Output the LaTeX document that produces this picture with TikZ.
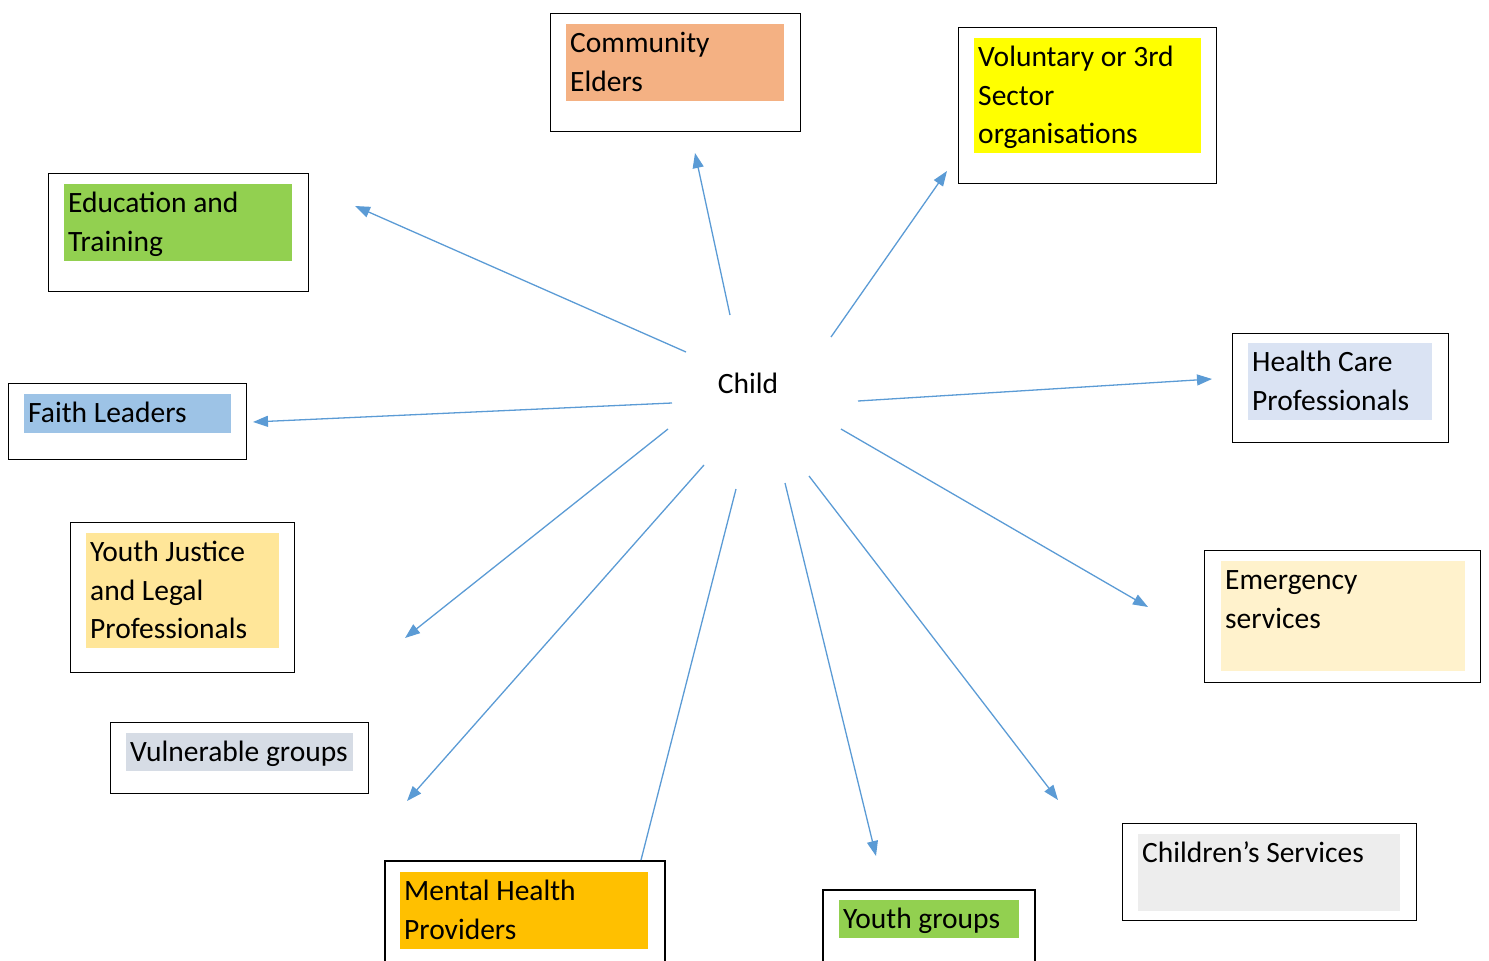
\documentclass[tikz,border=0pt]{standalone}
\usepackage{fontspec}
\setmainfont{Carlito}
\usetikzlibrary{arrows.meta}
\definecolor{lnk}{HTML}{5B9BD5}
\definecolor{cOrange}{HTML}{F4B183}
\definecolor{cYellow}{HTML}{FFFF00}
\definecolor{cGreen}{HTML}{92D050}
\definecolor{cBlue}{HTML}{9DC3E6}
\definecolor{cPaleBlue}{HTML}{DAE3F3}
\definecolor{cCream}{HTML}{FFF2CC}
\definecolor{cGold}{HTML}{FFE699}
\definecolor{cGrey}{HTML}{D6DCE5}
\definecolor{cAmber}{HTML}{FFC000}
\definecolor{cLight}{HTML}{EDEDED}
\newcommand{\Ls}{\rule[-10pt]{0pt}{38.5pt}}
\begin{document}
\begin{tikzpicture}[x=1pt,y=-1pt,
  outerbox/.style={draw=black, line width=1.4pt, anchor=north west, inner sep=0pt},
  fillbox/.style={draw=none, anchor=north west, inner sep=0pt},
  lab/.style={anchor=north west, inner xsep=4pt, inner ysep=0pt, align=left, font=\fontsize{29.5}{38.5}\selectfont},
  arr/.style={draw=lnk, line width=1.3pt, -{Triangle[length=15pt,width=11pt]}},
  plainline/.style={draw=lnk, line width=1.3pt}]
\useasboundingbox (0,0) rectangle (1489,961);
\clip (0,0) rectangle (1489,961);

% Community Elders
\node[outerbox, minimum width=250pt, minimum height=118pt] (ceO) at (550,13) {};
\node[fillbox, fill=cOrange, minimum width=218pt, minimum height=77pt] (ceF) at (566,24) {};
\node[lab] (ce) at (ceF.north west) {\Ls Community\\\Ls Elders};

% Voluntary
\node[outerbox, minimum width=258pt, minimum height=156pt] (voO) at (958,27) {};
\node[fillbox, fill=cYellow, minimum width=227pt, minimum height=115pt] (voF) at (974,38) {};
\node[lab] (vo) at (voF.north west) {\Ls Voluntary or 3rd\\\Ls Sector\\\Ls organisations};

% Education
\node[outerbox, minimum width=260pt, minimum height=118pt] (edO) at (48,173) {};
\node[fillbox, fill=cGreen, minimum width=228pt, minimum height=77pt] (edF) at (64,184) {};
\node[lab] (ed) at (edF.north west) {\Ls Education and\\\Ls Training};

% Faith Leaders
\node[outerbox, minimum width=238pt, minimum height=76pt] (faO) at (8,383) {};
\node[fillbox, fill=cBlue, minimum width=207pt, minimum height=38.5pt] (faF) at (24,394) {};
\node[lab] (fa) at (faF.north west) {\Ls Faith Leaders};

% Health Care
\node[outerbox, minimum width=216pt, minimum height=109pt] (hcO) at (1232,333) {};
\node[fillbox, fill=cPaleBlue, minimum width=184pt, minimum height=77pt] (hcF) at (1248,343) {};
\node[lab] (hc) at (hcF.north west) {\Ls Health Care\\\Ls Professionals};

% Emergency
\node[outerbox, minimum width=276pt, minimum height=132pt] (emO) at (1204,550) {};
\node[fillbox, fill=cCream, minimum width=244pt, minimum height=110pt] (emF) at (1221,561) {};
\node[lab] (em) at (emF.north west) {\Ls Emergency\\\Ls services};

% Youth Justice
\node[outerbox, minimum width=224pt, minimum height=150pt] (yjO) at (70,522) {};
\node[fillbox, fill=cGold, minimum width=193pt, minimum height=115pt] (yjF) at (86,533) {};
\node[lab] (yj) at (yjF.north west) {\Ls Youth Justice\\\Ls and Legal\\\Ls Professionals};

% Vulnerable groups
\node[outerbox, minimum width=258pt, minimum height=71pt] (vgO) at (110,722) {};
\node[fillbox, fill=cGrey, minimum width=227pt, minimum height=38pt] (vgF) at (126,733) {};
\node[lab] (vg) at (vgF.north west) {\Ls Vulnerable groups};

% Mental Health
\node[outerbox, line width=2pt, minimum width=280pt, minimum height=120pt] (mhO) at (384,860) {};
\node[fillbox, fill=cAmber, minimum width=248pt, minimum height=77pt] (mhF) at (400,872) {};
\node[lab] (mh) at (mhF.north west) {\Ls Mental Health\\\Ls Providers};

% Youth groups
\node[outerbox, line width=2pt, minimum width=212pt, minimum height=100pt] (ygO) at (822,889) {};
\node[fillbox, fill=cGreen, minimum width=180pt, minimum height=38pt] (ygF) at (839,900) {};
\node[lab] (yg) at (ygF.north west) {\Ls Youth groups};

% Children's Services
\node[outerbox, minimum width=294pt, minimum height=97pt] (csO) at (1122,823) {};
\node[fillbox, fill=cLight, minimum width=262pt, minimum height=77pt] (csF) at (1138,834) {};
\node[lab] (cs) at (csF.north west) {\Ls Children’s Services};

% Child
\node[anchor=base, inner sep=0pt, font=\fontsize{29.5}{38.5}\selectfont] (child) at (748,393) {Child};

% connector end points
\coordinate (s1) at (730,315);  \coordinate (e1) at (695,153);
\coordinate (s2) at (831,337);  \coordinate (e2) at (947,171);
\coordinate (s3) at (686,352);  \coordinate (e3) at (355,206);
\coordinate (s4) at (858,401);  \coordinate (e4) at (1212,379);
\coordinate (s5) at (672,403);  \coordinate (e5) at (253,422);
\coordinate (s6) at (841,429);  \coordinate (e6) at (1148,607);
\coordinate (s7) at (668,429);  \coordinate (e7) at (405,638);
\coordinate (s8) at (704,465);  \coordinate (e8) at (407,801);
\coordinate (s9) at (736,489);  \coordinate (e9) at (641,860);
\coordinate (s10) at (785,483); \coordinate (e10) at (876,856);
\coordinate (s11) at (809,476); \coordinate (e11) at (1058,800);

\draw[arr] (s1) -- (e1);
\draw[arr] (s2) -- (e2);
\draw[arr] (s3) -- (e3);
\draw[arr] (s4) -- (e4);
\draw[arr] (s5) -- (e5);
\draw[arr] (s6) -- (e6);
\draw[arr] (s7) -- (e7);
\draw[arr] (s8) -- (e8);
\draw[plainline] (s9) -- (e9);
\draw[arr] (s10) -- (e10);
\draw[arr] (s11) -- (e11);
\end{tikzpicture}
\end{document}
